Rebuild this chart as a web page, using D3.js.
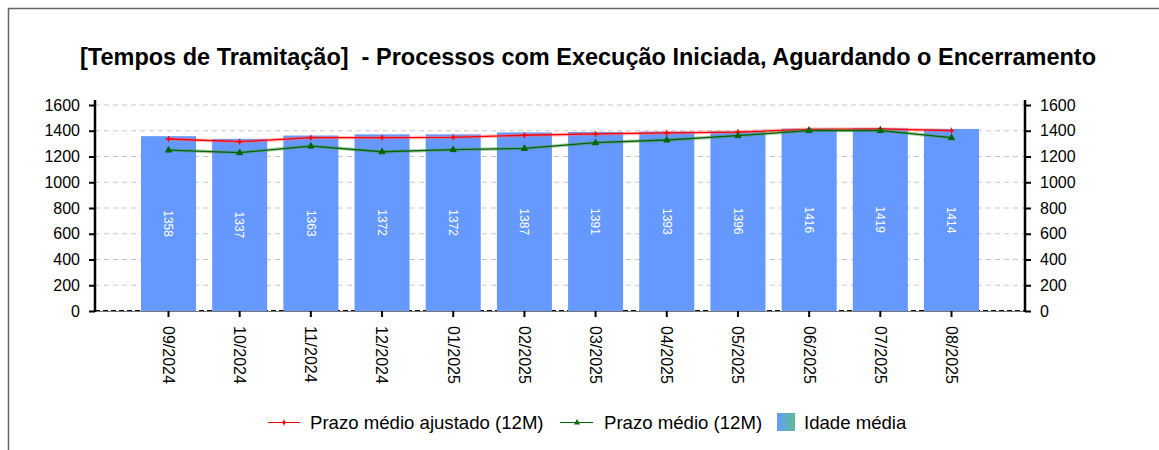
<!DOCTYPE html>
<html>
<head>
<meta charset="utf-8">
<script src="https://cdn.jsdelivr.net/npm/d3@7"></script>
<style>
  body { margin: 0; background: #fff; }
  svg { font-family: "Liberation Sans", Arial, sans-serif; }
</style>
</head>
<body>
<div class="chart"></div>
<script>
// dados do gráfico
const meses = ["09/2024", "10/2024", "11/2024", "12/2024", "01/2025", "02/2025",
               "03/2025", "04/2025", "05/2025", "06/2025", "07/2025", "08/2025"];
const idadeMedia = [1358, 1337, 1363, 1372, 1372, 1387, 1391, 1393, 1396, 1416, 1419, 1414];
const prazoAjustado = [1336, 1315, 1346, 1346, 1349, 1365, 1375, 1383, 1390, 1411, 1414, 1401];
const prazoMedio = [1250, 1230, 1281, 1237, 1253, 1263, 1307, 1328, 1362, 1401, 1401, 1346];
const yTicks = [0, 200, 400, 600, 800, 1000, 1200, 1400, 1600];

const W = 1159, H = 450;
const plotL = 95, plotR = 1025, plotT = 105, plotB = 311;

const svg = d3.select(".chart").append("svg")
    .attr("width", W).attr("height", H);

// moldura
svg.append("path")
    .attr("d", `M8.5,${H} L8.5,8.5 L${W},8.5`)
    .attr("fill", "none").attr("stroke", "#666").attr("stroke-width", 1.5);

// título (dois espaços antes do hífen, como no original)
svg.append("text")
    .attr("x", 588).attr("y", 65)
    .attr("text-anchor", "middle")
    .style("white-space", "pre")
    .style("font-size", "23.5px").style("font-weight", "bold")
    .text("[Tempos de Tramitação]  - Processos com Execução Iniciada, Aguardando o Encerramento");

// escalas
const x = d3.scaleBand().domain(meses).range([plotL, plotR])
    .paddingInner(0.227).paddingOuter(0.646);
const y = d3.scaleLinear().domain([0, 1600]).range([plotB, plotT]);

// linhas de grade
svg.selectAll(".grid")
    .data(yTicks.filter(d => d > 0))
    .enter().append("line")
    .attr("class", "grid")
    .attr("x1", plotL).attr("x2", plotR)
    .attr("y1", d => y(d)).attr("y2", d => y(d))
    .attr("stroke", "#c8c8c8").attr("stroke-dasharray", "5,4");

// linha zero tracejada
svg.append("line")
    .attr("x1", plotL).attr("x2", plotR)
    .attr("y1", y(0) - 0.5).attr("y2", y(0) - 0.5)
    .attr("stroke", "#000").attr("stroke-dasharray", "5,3");

// barras
svg.selectAll(".bar")
    .data(idadeMedia)
    .enter().append("rect")
    .attr("class", "bar")
    .attr("x", (d, i) => x(meses[i]))
    .attr("y", d => y(d))
    .attr("width", x.bandwidth())
    .attr("height", d => y(0) - y(d))
    .attr("fill", "#6699ff");

svg.append("line")
    .attr("x1", plotL).attr("x2", plotR)
    .attr("y1", y(0) + 0.5).attr("y2", y(0) + 0.5)
    .attr("stroke", "#777");

// rótulos das barras
svg.selectAll(".bar-label")
    .data(idadeMedia)
    .enter().append("text")
    .attr("class", "bar-label")
    .attr("transform", (d, i) => `translate(${x(meses[i]) + x.bandwidth() / 2},${(y(0) + y(d)) / 2}) rotate(90)`)
    .attr("text-anchor", "middle")
    .attr("dy", "0.35em")
    .attr("fill", "#fff")
    .style("font-size", "12px")
    .text(d => d);

// linhas
const cx = i => x(meses[i]) + x.bandwidth() / 2;
const line = d3.line().x((d, i) => cx(i)).y(d => y(d));

function drawSeries(values, color, glow, marker) {
    svg.append("path").datum(values)
        .attr("d", line).attr("fill", "none")
        .attr("stroke", glow).attr("stroke-width", 3.5).attr("stroke-opacity", 0.45);
    svg.append("path").datum(values)
        .attr("d", line).attr("fill", "none")
        .attr("stroke", color).attr("stroke-width", 1.3);
    svg.selectAll(null).data(values).enter().append("path")
        .attr("transform", (d, i) => `translate(${cx(i)},${y(d)})`)
        .attr("d", marker)
        .attr("fill", color).attr("stroke", color).attr("stroke-width", 1);
}
const plusMarker = "M-3,0H3M0,-3V3M-1,-1H1V1H-1Z";
const triMarker = "M0,-3.5L3,2H-3Z";
drawSeries(prazoAjustado, "#ff0000", "#ff6666", plusMarker);
drawSeries(prazoMedio, "#006600", "#4d944d", triMarker);

// eixos
const fmt = d3.format("d");
const axisL = d3.axisLeft(y).tickValues(yTicks).tickFormat(fmt).tickSize(6).tickPadding(9);
const gL = svg.append("g").attr("transform", `translate(${plotL},0)`).call(axisL);
const axisR = d3.axisRight(y).tickValues(yTicks).tickFormat(fmt).tickSize(6).tickPadding(9);
const gR = svg.append("g").attr("transform", `translate(${plotR},0)`).call(axisR);
[gL, gR].forEach(g => {
    g.select(".domain").remove();
    g.selectAll(".tick line").attr("stroke", "#000").attr("stroke-width", 2);
    g.selectAll("text").style("font-size", "16px").style("font-family", "Liberation Sans, Arial, sans-serif").attr("fill", "#000");
});
[plotL, plotR].forEach(xx => {
    svg.append("line")
        .attr("x1", xx).attr("x2", xx)
        .attr("y1", plotT - 5).attr("y2", plotB + 1)
        .attr("stroke", "#000").attr("stroke-width", 2.5);
});

const axisB = d3.axisBottom(x).tickSize(6).tickPadding(0);
const gB = svg.append("g").attr("transform", `translate(0,${plotB})`).call(axisB);
gB.select(".domain").remove();
gB.selectAll(".tick line").attr("stroke", "#000").attr("stroke-width", 2);
gB.selectAll("text")
    .style("font-size", "16px").style("font-family", "Liberation Sans, Arial, sans-serif")
    .attr("fill", "#000")
    .attr("text-anchor", "start")
    .attr("transform", "translate(0,15) rotate(90)")
    .attr("x", 0).attr("y", 0).attr("dy", "0.35em");

// legenda
const defs = svg.append("defs");
const grad = defs.append("linearGradient").attr("id", "gradLeg");
grad.append("stop").attr("offset", "0%").attr("stop-color", "#6699ff");
grad.append("stop").attr("offset", "100%").attr("stop-color", "#5fbc8f");

const legY = 422.5;
const leg = svg.append("g").style("font-size", "18.6px");
leg.append("line").attr("x1", 268).attr("x2", 300).attr("y1", legY).attr("y2", legY).attr("stroke", "#ff0000");
leg.append("path").attr("transform", `translate(284,${legY})`).attr("d", plusMarker).attr("fill", "#ff0000").attr("stroke", "#ff0000");
leg.append("text").attr("x", 310).attr("y", legY).attr("dy", "0.35em").text("Prazo médio ajustado (12M)");
leg.append("line").attr("x1", 560).attr("x2", 593).attr("y1", legY).attr("y2", legY).attr("stroke", "#006600");
leg.append("path").attr("transform", `translate(577,${legY})`).attr("d", triMarker).attr("fill", "#006600");
leg.append("text").attr("x", 604).attr("y", legY).attr("dy", "0.35em").text("Prazo médio (12M)");
leg.append("rect").attr("x", 777).attr("y", 413).attr("width", 18).attr("height", 18).attr("fill", "url(#gradLeg)");
leg.append("text").attr("x", 804).attr("y", legY).attr("dy", "0.35em").text("Idade média");
</script>
</body>
</html>
